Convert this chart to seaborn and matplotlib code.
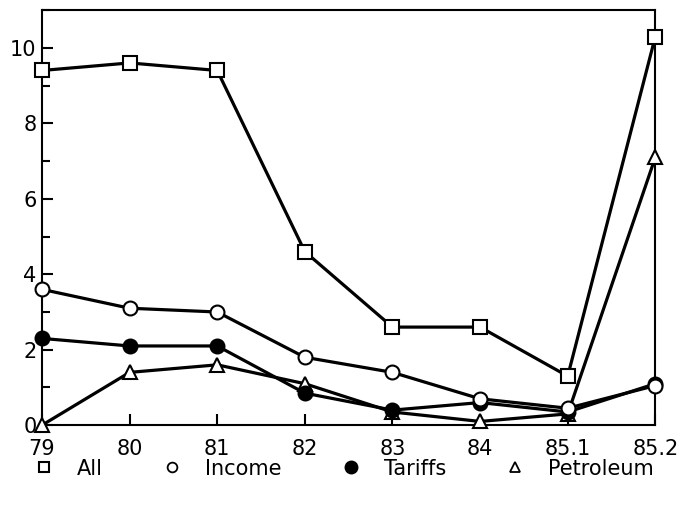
import matplotlib
matplotlib.use("Agg")
import matplotlib.pyplot as plt
import seaborn as sns
import pandas as pd
from matplotlib.ticker import MultipleLocator
from matplotlib.lines import Line2D

categories = ["79", "80", "81", "82", "83", "84", "85.1", "85.2"]
all_vals = [9.4, 9.6, 9.4, 4.6, 2.6, 2.6, 1.3, 10.3]
income_vals = [3.6, 3.1, 3.0, 1.8, 1.4, 0.7, 0.45, 1.05]
tariffs_vals = [2.3, 2.1, 2.1, 0.85, 0.4, 0.6, 0.35, 1.1]
petroleum_vals = [0.0, 1.4, 1.6, 1.1, 0.35, 0.1, 0.3, 7.1]

sns.set_style("ticks")
plt.rcParams['font.family'] = ['DejaVu Sans']
plt.rcParams['text.color'] = 'black'

fig = plt.figure(figsize=(6.77, 5.05), dpi=100)
ax = fig.add_axes([0.062, 0.158, 0.906, 0.822])

xpos = list(range(len(categories)))
series = [
    ("All", all_vals, "s", "white"),
    ("Income", income_vals, "o", "white"),
    ("Tariffs", tariffs_vals, "o", "black"),
    ("Petroleum", petroleum_vals, "^", "white"),
]
for name, vals, mk, fc in reversed(series):
    df = pd.DataFrame({"x": xpos, "y": vals})
    sns.lineplot(data=df, x="x", y="y", ax=ax, color="black", lw=2.3,
                 marker=mk, markersize=10, markerfacecolor=fc,
                 markeredgecolor="black", markeredgewidth=1.5, clip_on=False,
                 zorder=3)

ax.set_xlim(0, len(categories) - 1)
ax.set_ylim(0, 11)
ax.set_xticks(xpos)
ax.set_xticklabels(categories)
ax.yaxis.set_major_locator(MultipleLocator(2))
ax.yaxis.set_minor_locator(MultipleLocator(1))
ax.tick_params(axis="both", which="both", direction="in", labelsize=15,
               colors="black", width=1.5)
ax.tick_params(axis="both", which="major", length=8)
ax.tick_params(axis="x", which="major", pad=10)
ax.tick_params(axis="y", which="major", pad=4)
ax.tick_params(axis="y", which="minor", length=6)
ax.set_xlabel("")
ax.set_ylabel("")
for s in ax.spines.values():
    s.set_linewidth(1.5)
    s.set_color("black")

handles = [
    Line2D([], [], ls="none", marker="s", markersize=7, markerfacecolor="white",
           markeredgecolor="black", markeredgewidth=1.5),
    Line2D([], [], ls="none", marker="o", markersize=7, markerfacecolor="white",
           markeredgecolor="black", markeredgewidth=1.3),
    Line2D([], [], ls="none", marker="o", markersize=9, markerfacecolor="black",
           markeredgecolor="black"),
    Line2D([], [], ls="none", marker="^", markersize=7, markerfacecolor="white",
           markeredgecolor="black", markeredgewidth=1.3),
]
leg = fig.legend(handles, ["All", "Income", "Tariffs", "Petroleum"], loc="center",
                 bbox_to_anchor=(0.5, 0.072), ncol=4, frameon=False, fontsize=15,
                 columnspacing=2.3, handletextpad=0.6)
for t in leg.get_texts():
    t.set_color("black")

fig.savefig("out.png", dpi=100)
